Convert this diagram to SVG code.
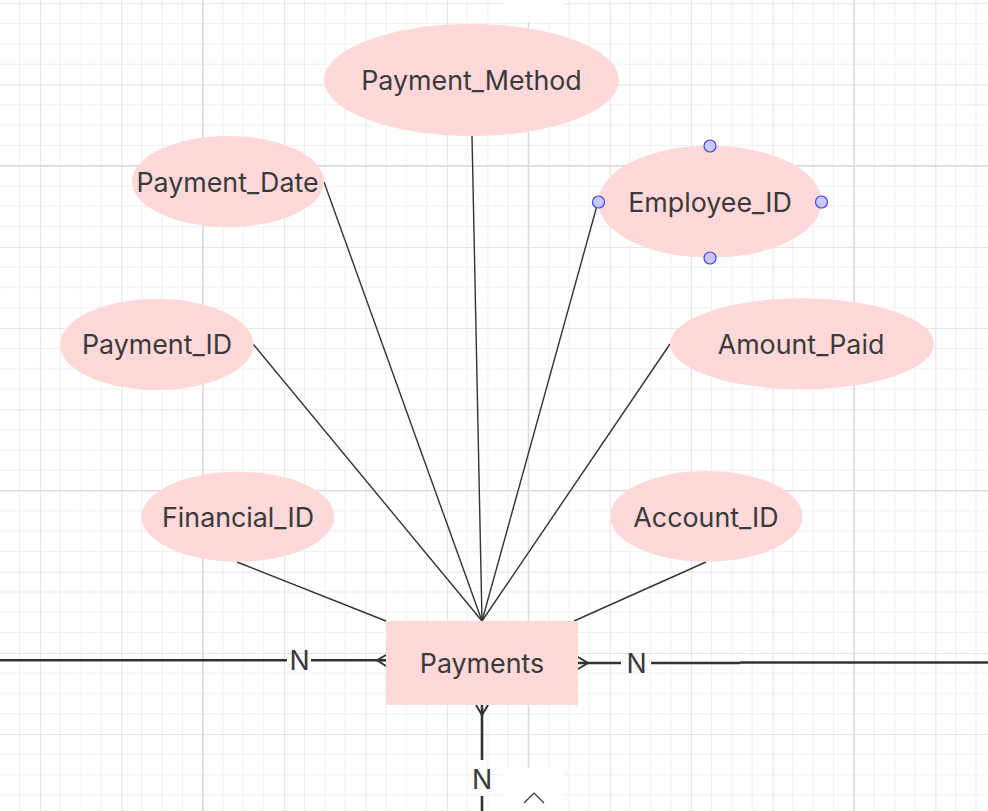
<svg xmlns="http://www.w3.org/2000/svg" width="988" height="811" viewBox="0 0 988 811">
<style>
.attr{fill:#ffd9d9;}
.lbl{font-family:Inter,"Liberation Sans",sans-serif;font-size:26.8px;fill:#3a3a3a;text-anchor:middle;}
.conn{stroke:#333;stroke-width:1.4;fill:none;}
.rel{stroke:#333;stroke-width:2.6;fill:none;}
.foot{stroke:#333;stroke-width:2;fill:none;}
.handle{fill:#c9c9ff;stroke:#4646e6;stroke-width:1.2;}
</style>
<defs>
<pattern id="grid" patternUnits="userSpaceOnUse" x="39.9" y="3.3" width="81.4" height="81.2">
<path d="M20.35 0V81.2M40.7 0V81.2M61.05 0V81.2M0 20.3H81.4M0 40.6H81.4M0 60.9H81.4" stroke="#efefef" stroke-width="1"/>
<path d="M0.5 0V81.2M0 0.5H81.4" stroke="#e3e3e3" stroke-width="1"/>
</pattern>
</defs>
<rect width="988" height="811" fill="#ffffff"/>
<rect width="988" height="811" fill="url(#grid)"/>
<path d="M202.7 0V811M528.3 0V811M853.9 0V811M0 165.7H988M0 490.5H988" stroke="#dadada" stroke-width="1.2"/>
<rect x="504" y="0" width="60" height="22" fill="#ffffff"/>
<rect x="504" y="768" width="60" height="43" fill="#ffffff"/>
<polyline points="524,803 534,793 544,803" fill="none" stroke="#333" stroke-width="1.2"/>

<g id="connectors">
<line class="conn" x1="472" y1="136" x2="482" y2="621"/>
<line class="conn" x1="324" y1="182" x2="482" y2="621"/>
<line class="conn" x1="598" y1="202" x2="482" y2="621"/>
<line class="conn" x1="253" y1="344" x2="482" y2="621"/>
<line class="conn" x1="670" y1="344" x2="482" y2="621"/>
<line class="conn" x1="237" y1="562" x2="386" y2="621"/>
<line class="conn" x1="706" y1="562" x2="574" y2="621"/>
<path class="rel" d="M0 660.3H287M311 660.3H386"/>
<path class="foot" d="M386 655L377 660.3L386 666M377 660.3H386"/>
<text class="lbl" x="299.5" y="670">N</text>
<path class="rel" d="M578 663H621M651 663H740M740 662.5H988"/>
<path class="foot" d="M578 657L588 663L578 669M578 663H588"/>
<text class="lbl" x="636.5" y="672.5">N</text>
<path class="rel" d="M482 705V760M482 796V811"/>
<path class="foot" d="M476 705L482 715L488 705M482 705V715"/>
<text class="lbl" x="482" y="788.5">N</text>
</g>

<g id="Payment_Method"><ellipse class="attr" cx="471.5" cy="80" rx="147.5" ry="56"/><text class="lbl" x="471.5" y="90">Payment_Method</text></g>
<g id="Payment_Date"><ellipse class="attr" cx="228" cy="181.5" rx="96" ry="45.5"/><text class="lbl" x="227.5" y="191.5">Payment_Date</text></g>
<g id="Employee_ID"><ellipse class="attr" cx="710" cy="201.7" rx="111.7" ry="56"/><text class="lbl" x="710" y="211.7">Employee_ID</text>
<circle class="handle" cx="710" cy="146" r="6"/><circle class="handle" cx="710" cy="258" r="6"/><circle class="handle" cx="598.5" cy="202" r="6"/><circle class="handle" cx="821.5" cy="202" r="6"/></g>
<g id="Payment_ID"><ellipse class="attr" cx="156.7" cy="344.5" rx="96.7" ry="45.5"/><text class="lbl" x="157" y="354">Payment_ID</text></g>
<g id="Amount_Paid"><ellipse class="attr" cx="802" cy="343.8" rx="132" ry="45.5"/><text class="lbl" x="801" y="354">Amount_Paid</text></g>
<g id="Financial_ID"><ellipse class="attr" cx="238" cy="516.7" rx="96.3" ry="45"/><text class="lbl" x="238" y="526.7">Financial_ID</text></g>
<g id="Account_ID"><ellipse class="attr" cx="706.3" cy="516.3" rx="96.3" ry="45.3"/><text class="lbl" x="706" y="526.7">Account_ID</text></g>
<g id="Payments"><rect x="386" y="621" width="192" height="84" rx="1.5" fill="#ffd9d9"/><text class="lbl" x="482" y="673.3">Payments</text></g>
</svg>
